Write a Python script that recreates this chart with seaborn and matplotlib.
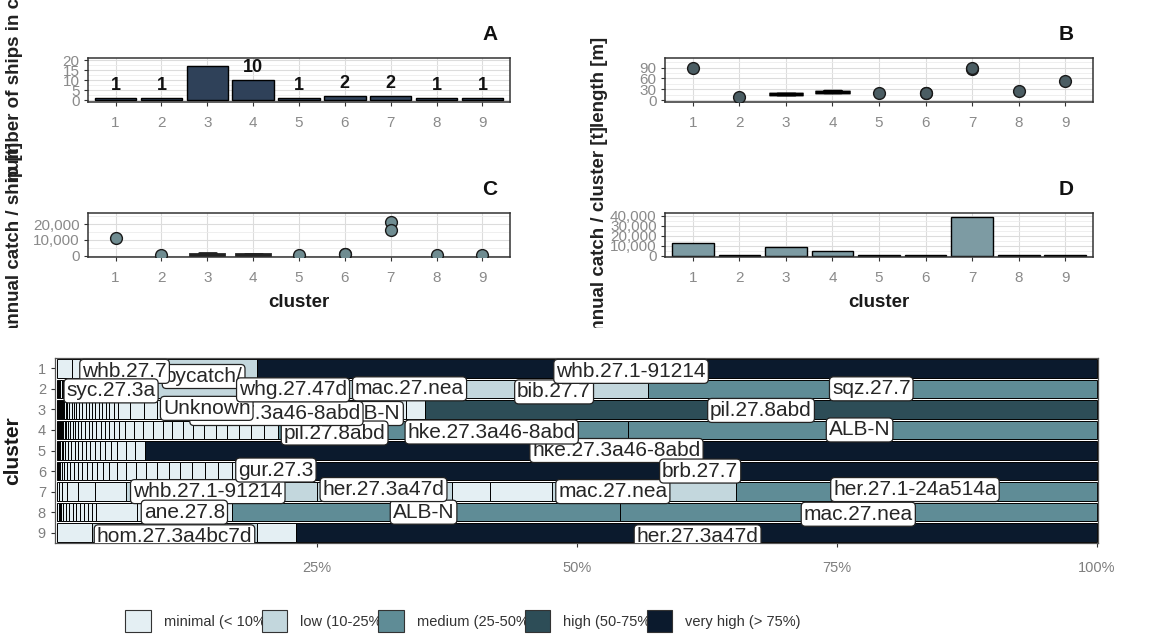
import matplotlib
matplotlib.use("Agg")
import matplotlib.pyplot as plt
import seaborn as sns
import pandas as pd
from matplotlib.patches import Patch
from matplotlib.ticker import MultipleLocator, FuncFormatter
from matplotlib.transforms import Bbox, TransformedBbox

clusters = ["1", "2", "3", "4", "5", "6", "7", "8", "9"]

# A: number of ships per cluster
ships = [1, 1, 17, 10, 1, 2, 2, 1, 1]

# B: vessel length [m]
length_cluster = ["1", "2", "5", "6", "6", "7", "7", "8", "9"]
length_m = [90, 9, 19, 19, 19, 85, 90, 26, 53]
length_box_cluster = ["3", "3", "3", "3", "3", "4", "4", "4", "4"]
length_box_m = [16, 17, 17, 18, 20, 22, 23, 23, 24]

# C: annual catch per ship [t]
catch_ship_cluster = ["1", "2", "5", "6", "6", "7", "7", "8", "9"]
catch_ship_t = [11400, 700, 500, 1300, 900, 21000, 16000, 400, 500]
catch_box_cluster = ["3", "3", "3", "3", "4", "4", "4", "4"]
catch_box_t = [100, 400, 800, 1500, 100, 400, 800, 1400]

# D: annual catch per cluster [t]
catch_cluster_t = [12500, 500, 8300, 5000, 400, 400, 39000, 500, 400]

# catch composition per cluster (% of cluster catch, left to right)
share_1 = [1.4, 5.0, 12.8, 80.8]
stock_1 = ["", "whb.27.7", "bycatch/", "whb.27.1-91214"]
share_2 = [0.05, 0.05, 0.1, 0.1, 0.15, 0.15, 0.2, 3.2, 4.0, 13.0, 18.0, 17.8, 43.2]
stock_2 = [""] * 7 + ["syc.27.3a", "", "whg.27.47d", "mac.27.nea", "bib.27.7", "sqz.27.7"]
share_3 = [0.05, 0.05, 0.05, 0.1, 0.1, 0.1, 0.1, 0.15, 0.15, 0.15, 0.2, 0.2, 0.2, 0.25, 0.3, 0.3,
           0.3, 0.3, 0.3, 0.3, 0.35, 0.35, 0.35, 0.35, 0.4, 0.4,
           1.2, 1.3, 1.3,
           1.4, 1.5, 2.5, 1.6, 1.8, 5.5, 2.0, 5.5, 2.15,
           1.8, 64.6]
stock_3 = [""] * 31 + ["Unknown", "", "", "hke.27.3a46-8abd", "", "ALB-N", "", "", "pil.27.8abd"]
share_4 = [0.05, 0.05, 0.05, 0.1, 0.1, 0.1, 0.15, 0.15, 0.15, 0.2, 0.2, 0.2, 0.25, 0.3, 0.3,
           0.35, 0.35, 0.35, 0.4, 0.4, 0.4, 0.45, 0.45, 0.5, 0.55,
           0.85, 0.9, 0.9, 0.95, 0.95, 1.0, 1.0, 1.05, 1.1, 1.1, 1.15, 1.2, 1.25, 1.3,
           33.7, 45.05]
stock_4 = [""] * 38 + ["pil.27.8abd", "hke.27.3a46-8abd", "ALB-N"]
share_5 = [0.05, 0.05, 0.1, 0.1, 0.15, 0.15, 0.2, 0.25, 0.3,
           0.35, 0.35, 0.35, 0.4, 0.4, 0.45, 0.45, 0.5, 0.55, 0.6,
           0.85, 0.9, 1.0,
           91.5]
stock_5 = [""] * 22 + ["hke.27.3a46-8abd"]
share_6 = [0.05, 0.05, 0.1, 0.1, 0.15, 0.2, 0.3,
           0.35, 0.35, 0.4, 0.4, 0.45, 0.45, 0.5, 0.55, 0.6, 0.75,
           0.9, 0.95, 1.0, 1.05, 1.1, 1.1, 1.15, 1.2, 1.25, 1.35,
           6.5, 76.7]
stock_6 = [""] * 27 + ["gur.27.3", "brb.27.7"]
share_7 = [0.2, 0.3, 0.5, 1.0, 1.7, 2.9, 18.4, 13.0, 3.6, 6.0, 17.7, 34.7]
stock_7 = [""] * 6 + ["whb.27.1-91214", "her.27.3a47d", "", "", "mac.27.nea", "her.27.1-24a514a"]
share_8 = [0.05, 0.1, 0.1, 0.15, 0.2, 0.25, 0.3, 0.35,
           0.35, 0.35, 0.4, 0.4, 0.4,
           0.4, 3.9, 9.1, 37.3, 45.9]
stock_8 = [""] * 15 + ["ane.27.8", "ALB-N", "mac.27.nea"]
share_9 = [3.4, 15.8, 3.8, 77.0]
stock_9 = ["", "hom.27.3a4bc7d", "", "her.27.3a47d"]

levels = ["minimal (< 10%)", "low (10-25%)", "medium (25-50%)", "high (50-75%)", "very high (> 75%)"]
level_colors = ["#e4eff3", "#c3d7dd", "#5f8c96", "#2d4d57", "#0b1a2d"]

# labelled stocks, in drawing order, with repel-like nudges
label_cluster = [1, 1, 2, 3, 4, 3, 3, 2, 2, 2, 1, 2, 3, 5, 4, 4, 9, 7, 6, 8, 7, 8, 7, 6, 9, 8, 7]
label_stock = ["bycatch/", "whb.27.7", "syc.27.3a", "ALB-N", "pil.27.8abd", "hke.27.3a46-8abd",
               "Unknown", "mac.27.nea", "whg.27.47d", "bib.27.7", "whb.27.1-91214", "sqz.27.7",
               "pil.27.8abd", "hke.27.3a46-8abd", "hke.27.3a46-8abd", "ALB-N", "hom.27.3a4bc7d",
               "whb.27.1-91214", "gur.27.3", "ALB-N", "her.27.3a47d", "ane.27.8", "mac.27.nea",
               "brb.27.7", "her.27.3a47d", "mac.27.nea", "her.27.1-24a514a"]
label_dx = [1.3, 2.6, 2.8, 1.4, 6.1, -0.1, 0.6, 3.9, 8.2, -0.1, -4.4, -0.1, 0.0, -0.45, 3.7,
            -0.3, 0.0, -1.3, 1.0, -0.2, -0.1, 0.0, -3.0, 0.2, 0.1, 0.0, -0.15]
label_dy = [0.4, 0.15, 0.1, 0.2, 0.15, 0.2, -0.05, 0.0, 0.05, 0.15, 0.15, 0.0, 0.05, 0.0, 0.1,
            0.0, 0.2, 0.0, -0.05, 0.0, -0.1, 0.0, 0.0, 0.0, 0.2, 0.1, -0.1]

sns.set_style("white")
plt.rcParams["font.family"] = ["Liberation Sans", "DejaVu Sans"]

W, H = 1150, 639
fig = plt.figure(figsize=(W / 100, H / 100), dpi=100)


def px_axes(x0, y0, x1, y1):
    return fig.add_axes([x0 / W, 1 - y1 / H, (x1 - x0) / W, (y1 - y0) / H])


def frame_panel(ax, ylim, yticks, minor, comma=False):
    ax.set_xlim(-0.6, 8.6)
    ax.set_ylim(*ylim)
    ax.set_yticks(yticks)
    ax.yaxis.set_minor_locator(MultipleLocator(minor))
    if comma:
        ax.yaxis.set_major_formatter(FuncFormatter(lambda v, p: f"{v:,.0f}"))
    ax.set_xticks(range(9), clusters)
    ax.grid(True, which="major", color="#dcdcdc", linewidth=0.8)
    ax.grid(True, which="minor", axis="y", color="#ececec", linewidth=0.6)
    ax.set_axisbelow(True)
    for s in ax.spines.values():
        s.set_visible(True)
        s.set_color("#333333")
        s.set_linewidth(1.1)
    ax.tick_params(axis="both", which="major", length=3, color="#333333",
                   labelcolor="#8a8a8a", labelsize=11, left=True, bottom=True)
    ax.tick_params(axis="x", pad=7)
    ax.tick_params(axis="y", pad=3)
    ax.tick_params(which="minor", length=0)
    ax.set_xlabel("")
    ax.set_ylabel("")


def panel_tag(ax, tag, dx):
    ax.annotate(tag, xy=(1, 1), xycoords="axes fraction", xytext=(dx, 10),
                textcoords="offset points", ha="right", va="bottom",
                fontsize=15, fontweight="bold", color="#111111")


# A
axA = px_axes(88, 58, 510, 102)
sns.barplot(x=clusters, y=ships, color="#2f4159", saturation=1, edgecolor="black",
            linewidth=1, width=0.9, errorbar=None, ax=axA)
axA.bar_label(axA.containers[0], labels=[str(v) for v in ships], padding=3,
              fontsize=13, fontweight="bold", color="#111111", clip_on=True)
frame_panel(axA, (-1, 21), [0, 5, 10, 15, 20], 2.5)
panel_tag(axA, "A", -9)

# B
axB = px_axes(665, 58, 1093, 102)
sns.boxplot(x=length_box_cluster, y=length_box_m, order=clusters, color="black",
            linecolor="black", linewidth=2.5, width=0.75, fliersize=0, ax=axB)
sns.stripplot(x=length_cluster, y=length_m, order=clusters, jitter=False, size=8.5,
              color="#4b5d63", edgecolor="#1a1a1a", linewidth=1, ax=axB)
frame_panel(axB, (-5.5, 117), [0, 30, 60, 90], 15)
panel_tag(axB, "B", -14)

# C
axC = px_axes(88, 213, 510, 257)
sns.boxplot(x=catch_box_cluster, y=catch_box_t, order=clusters, color="#333333",
            linecolor="#222222", linewidth=2, width=0.75, fliersize=0, ax=axC)
sns.stripplot(x=catch_ship_cluster, y=catch_ship_t, order=clusters, jitter=False, size=8.5,
              color="#6f8c91", edgecolor="#1a1a1a", linewidth=1, ax=axC)
frame_panel(axC, (-800, 27000), [0, 10000, 20000], 5000, comma=True)
panel_tag(axC, "C", -9)
axC.set_xlabel("cluster", fontsize=13.5, fontweight="bold", color="#1a1a1a")
axC.xaxis.set_label_coords(0.5, -0.84)

# D
axD = px_axes(665, 213, 1093, 257)
sns.barplot(x=clusters, y=catch_cluster_t, color="#7d9ba3", saturation=1, edgecolor="black",
            linewidth=1, width=0.9, errorbar=None, ax=axD)
frame_panel(axD, (-1300, 42700), [0, 10000, 20000, 30000, 40000], 5000, comma=True)
panel_tag(axD, "D", -14)
axD.set_xlabel("cluster", fontsize=13.5, fontweight="bold", color="#1a1a1a")
axD.xaxis.set_label_coords(0.5, -0.84)

# y labels of the top grid, overlapping and clipped as in the original layout
ylab_kw = dict(rotation=90, ha="center", va="center", fontsize=13.5,
               fontweight="bold", color="#222222")
fig.text(15 / W, 1 - 64 / H, "number of ships in cluster", **ylab_kw)
fig.text(600 / W, 1 - 82 / H, "length [m]", **ylab_kw)
clip_top = TransformedBbox(Bbox.from_extents(0, 1 - 328 / H, 1, 1), fig.transFigure)
for t in (fig.text(15 / W, 1 - 238 / H, "annual catch / ship [t]", **ylab_kw),
          fig.text(600 / W, 1 - 234 / H, "annual catch / cluster [t]", **ylab_kw)):
    t.set_clip_box(clip_top)
    t.set_clip_on(True)

# catch composition
rows = []
for k, (shares, stocks) in enumerate(zip(
        [share_1, share_2, share_3, share_4, share_5, share_6, share_7, share_8, share_9],
        [stock_1, stock_2, stock_3, stock_4, stock_5, stock_6, stock_7, stock_8, stock_9]), start=1):
    left = 0.0
    for s, name in zip(shares, stocks):
        rows.append({"cluster": k, "stock": name, "share": s, "left": left})
        left += s
mix = pd.DataFrame(rows)
mix["level"] = pd.cut(mix["share"], bins=[0, 10, 25, 50, 75, 101], right=False, labels=levels)
mix["color"] = mix["level"].astype(str).map(dict(zip(levels, level_colors)))

axM = px_axes(55, 358, 1098, 543)
axM.barh(mix["cluster"], mix["share"], left=mix["left"], height=0.9,
         color=mix["color"], edgecolor="black", linewidth=0.7)
axM.set_xlim(-0.19, 100.1)
axM.set_ylim(9.5, 0.5)
axM.set_yticks(range(1, 10), clusters)
axM.set_xticks([25, 50, 75, 100], ["25%", "50%", "75%", "100%"])
axM.tick_params(axis="both", length=3, color="#333333", labelcolor="#7f7f7f",
                labelsize=10.5, left=True, bottom=True)
axM.tick_params(axis="x", pad=10)
for s in axM.spines.values():
    s.set_visible(True)
    s.set_color("#555555")
    s.set_linewidth(0.9)
axM.set_ylabel("cluster", fontsize=15, fontweight="bold", color="#1a1a1a")
axM.yaxis.set_label_coords(-33 / 1043, 0.5)

for i, (c, name, dx, dy) in enumerate(zip(label_cluster, label_stock, label_dx, label_dy)):
    seg = mix[(mix["cluster"] == c) & (mix["stock"] == name)].iloc[0]
    axM.text(seg["left"] + seg["share"] / 2 + dx, c + dy, name, ha="center", va="center",
             fontsize=15, color="#262626", zorder=5 + i, clip_on=True,
             bbox=dict(boxstyle="round,pad=0.12,rounding_size=0.2", fc="white",
                       ec="#222222", lw=0.9))

handles = [Patch(facecolor=c, edgecolor="#333333", linewidth=0.8) for c in level_colors]
fig.legend(handles, levels, loc="center", bbox_to_anchor=(463 / W, 1 - 621 / H), ncol=5,
           frameon=False, fontsize=10.5, handlelength=1.75, handleheight=2.0,
           handletextpad=0.9, columnspacing=-0.6, labelcolor="#333333")

fig.savefig("out.png", dpi=100)
